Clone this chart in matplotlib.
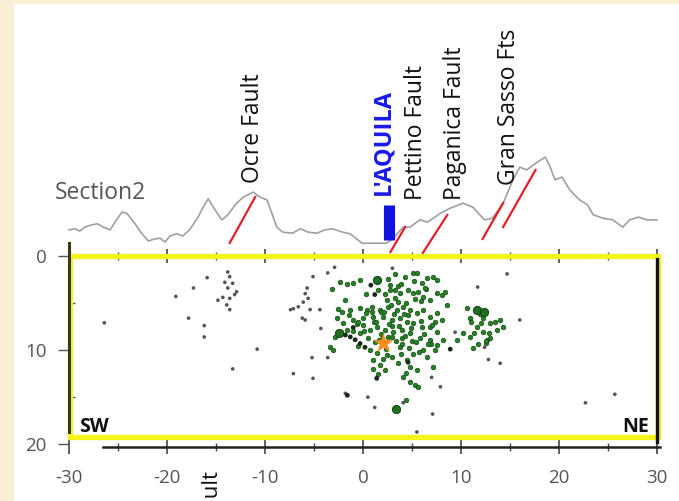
import matplotlib.pyplot as plt
from matplotlib.patches import Rectangle
from matplotlib.ticker import MultipleLocator

plt.rcParams['font.family'] = ['Open Sans', 'DejaVu Sans']
plt.rcParams['axes.unicode_minus'] = False

# topographic profile along the section (km along section, elevation m)
topo_x = [-30.0, -29.4, -28.9, -28.4, -27.7, -27.1, -26.5, -25.8, -25.3, -24.6,
          -24.1, -23.3, -22.6, -21.9, -21.2, -20.7, -20.2, -19.7, -19.0, -18.4,
          -17.7, -16.9, -16.3, -15.8, -15.1, -14.4, -13.8, -12.9, -12.2, -11.2,
          -10.5, -9.8, -9.3, -8.8, -8.2, -7.2, -6.4, -5.6, -4.7, -3.9,
          -3.1, -2.1, -1.3, -0.1, 2.4, 3.1, 4.1, 4.8, 5.8, 6.6,
          7.9, 8.9, 10.2, 11.2, 12.4, 13.2, 14.3, 15.3, 16.0, 16.7,
          17.8, 18.6, 19.1, 19.6, 20.3, 21.1, 22.1, 22.9, 23.5, 24.5,
          25.5, 26.5, 27.2, 28.1, 29.0, 30.0]
topo_z = [770, 790, 750, 820, 860, 880, 820, 770, 910, 1090,
          1070, 890, 710, 570, 610, 620, 550, 660, 700, 660,
          770, 980, 1180, 1330, 1130, 950, 1040, 1250, 1360, 1450,
          1360, 1310, 1070, 820, 730, 710, 790, 730, 710, 770,
          790, 730, 700, 530, 530, 620, 820, 820, 950, 910,
          1070, 1160, 1250, 1180, 950, 980, 1250, 1670, 1900, 1850,
          1990, 2080, 1900, 1670, 1720, 1490, 1310, 1220, 1040, 980,
          950, 820, 950, 1000, 950, 950]

# fault traces drawn on the profile: (x0, z0, x1, z1)
fault_traces = [(-13.6, 534, -11.0, 1362),
                (2.8, 372, 4.3, 822),
                (6.1, 354, 8.6, 1038),
                (12.2, 606, 14.3, 1254),
                (14.3, 822, 17.6, 1848)]
fault_names = ['Ocre Fault', 'Pettino Fault', 'Paganica Fault', 'Gran Sasso Fts']
fault_label_x = [-11.2, 5.4, 9.4, 14.9]
fault_label_z = [1614, 1308, 1308, 1578]

aquila_x = 2.7
aquila_z = (588, 1218)

# background seismicity (km along section, depth km)
gray_x = [-26.4, -19.1, -17.3, -17.8, -15.9, -16.2, -16.2,
          -13.8, -13.6, -14.1, -13.3, -13.8, -12.9, -14.3, -13.6, -13.1, -13.9, -13.6, -14.8,
          -10.8, -13.3, -7.1, -5.1, -5.2, -4.3, -3.6, -5.1, -5.7, -5.9, -5.6,
          -7.4, -7.1, -6.6, -6.1, -5.4, -4.4, -6.2, -5.9, -1.8, -3.6,
          0.5, 1.2, 4.1, 7.1, 5.5, 7.9, 7.0, 9.4, 11.7, 14.7,
          16.0, 12.8, 14.0, 12.4, 22.7, 25.7, -2.9, 3.0]
gray_d = [7.1, 4.3, 3.4, 6.6, 2.3, 7.4, 8.6,
          1.7, 2.2, 2.8, 2.9, 3.4, 3.8, 4.4, 4.5, 4.1, 5.2, 5.7, 4.7,
          9.9, 12.0, 12.5, 13.0, 10.8, 7.7, 1.8, 2.2, 3.4, 4.0, 4.5,
          5.7, 5.6, 5.4, 4.9, 5.7, 5.7, 6.6, 6.8, 14.6, 10.8,
          15.0, 16.1, 15.6, 16.8, 18.7, 13.9, 12.9, 8.1, 3.3, 1.9,
          6.8, 11.0, 11.4, 9.7, 15.6, 14.7, 1.2, 1.3]

# dark events inside the main cluster
dark_x = [8.9, 1.2, 1.4, -1.6, -1.8, -1.3, -0.8, -0.3, 0.2, -2.2, -1.0, 0.8, 4.6]
dark_d = [9.9, 4.1, 13.0, 14.8, 8.4, 8.6, 8.9, 9.3, 9.7, 8.1, 7.6, 3.1, 11.3]

# aftershock sequence
green_x = [-2.3, -1.6, -1.0, -0.3, 2.6, 3.3, 4.3, 5.1, 5.5, 6.5, 7.1, 7.5, 6.0,
           4.6, 5.1, 5.6, 6.1, 6.8, 7.6, 8.1, 8.4, 3.8, 3.3, 2.4, -1.8, -2.1, -1.3,
           -0.3, 0.4, 0.9, 1.7, 2.6, 3.5, 4.1, 4.8, 5.5, 6.1, 6.8, 7.6, 8.1,
           -1.0, 0.0, 1.0, 2.0, 3.0, 3.8, 4.5, 5.1, 6.0, 6.8, 7.6,
           -1.6, -1.0, -0.3, 0.7, 1.4, 2.2, 3.1, 4.0, 4.8, 5.8, 6.8, 7.6,
           -3.4, -3.1, 0.7, 1.4, 1.0, 1.7, 1.5, 2.2, 3.0, 3.8, 4.5, 4.8,
           4.1, 4.8, 5.3, 5.6, 5.5, 6.1, 6.5, 7.1, 7.3, 8.2, 4.4,
           10.6, 10.9, 12.2, 13.0, 13.7, 11.6, 12.2, 10.9, 13.0, 11.7, 11.2,
           10.2, 9.6, 14.0, 14.3, 12.7, 11.9, 12.6,
           -2.0, -1.4, -0.6, 0.3, 1.1, 1.8, 2.9, 3.6, 4.4, 5.3, 4.2, 3.0,
           2.5, 1.9, 3.4, 4.0, 2.3, 1.2, 0.5, -0.5, 5.9, 6.4, 3.6, 2.8,
           -3.2, -2.7, 0.0, 5.0, 5.7, 6.9, 2.0, 1.0, 3.9, 4.7, 7.3, 8.6,
           0.3, 1.5, 2.8, 3.9, 5.2, 6.3, 0.9, 2.1, 3.2, 4.6, 5.9, 7.0,
           -0.5, 1.3, 2.7, 3.7, 4.9, 6.2, 1.8, 3.0, 4.3, 5.4, 0.1, 1.6,
           4.0, 5.1, 6.6, 2.4, 3.6, 4.4, 11.0, 12.0, 12.9, 11.3, 12.5, 13.5,
           -2.6, -2.9, 2.2, 3.3]
green_d = [2.8, 3.0, 2.9, 2.6, 2.4, 1.9, 2.2, 1.8, 1.8, 2.3, 2.2, 2.6, 2.9,
           3.6, 3.9, 3.8, 4.4, 4.7, 3.9, 4.1, 3.8, 3.9, 4.5, 4.7, 4.7, 6.0, 5.7,
           5.5, 5.7, 5.4, 5.7, 5.4, 5.7, 5.4, 5.7, 6.1, 5.7, 6.5, 6.1, 6.8,
           6.8, 6.6, 6.5, 6.5, 6.8, 6.6, 7.0, 7.1, 7.5, 7.5, 8.1,
           7.9, 8.0, 8.2, 7.9, 7.5, 7.9, 8.1, 7.9, 8.2, 8.7, 8.9, 9.5,
           9.7, 10.0, 10.0, 10.3, 11.1, 11.6, 12.5, 12.1, 10.7, 9.7, 11.1, 11.8,
           12.9, 13.4, 13.7, 13.9, 12.1, 10.0, 10.7, 11.8, 10.0, 8.9, 15.3,
           5.5, 6.6, 6.6, 7.1, 7.9, 7.5, 8.1, 8.6, 8.7, 9.3, 9.8,
           8.2, 8.9, 6.8, 7.5, 8.9, 6.2, 9.2,
           7.1, 6.3, 7.2, 6.1, 7.0, 6.0, 5.2, 4.9, 5.0, 4.6, 6.2, 7.4,
           8.6, 8.8, 9.0, 8.7, 9.9, 9.1, 8.7, 9.6, 4.8, 3.5, 3.2, 3.6,
           3.5, 6.6, 7.3, 9.0, 10.2, 9.4, 10.9, 12.0, 10.4, 9.8, 7.0, 5.2,
           4.0, 3.6, 3.1, 3.0, 2.7, 3.4, 6.0, 5.9, 6.2, 6.3, 6.9, 7.3,
           7.0, 7.0, 7.2, 7.4, 7.6, 8.3, 8.3, 8.6, 8.5, 9.1, 8.0, 8.9,
           9.4, 10.4, 9.4, 10.5, 11.4, 12.4, 7.0, 7.1, 8.2, 8.2, 9.0, 7.0,
           5.6, 8.6, 4.0, 3.6]

# larger events
big_x = [1.4, 11.6, 3.4, 12.3, -2.4]
big_d = [2.6, 5.7, 16.3, 6.0, 8.2]

mainshock_x = 2.1
mainshock_d = 9.3

fig = plt.figure(figsize=(6.79, 5.01), dpi=100, facecolor='#faeed5')

# white sheet behind the drawing
bg = fig.add_axes([14 / 679, 0, 1 - 14 / 679, 1 - 4 / 501])
bg.set_facecolor('white')
bg.set_xticks([])
bg.set_yticks([])
for s in bg.spines.values():
    s.set_visible(False)
bg.set_zorder(-1)

# profile panel
ax_top = fig.add_axes([69 / 679, 245 / 501, 588 / 679, 256 / 501])
ax_top.set_xlim(-30, 30)
ax_top.set_ylim(300, 300 + 256 * 18)
ax_top.axis('off')
ax_top.plot(topo_x, topo_z, color='#a0a0a0', lw=1.2, clip_on=False)
for x0, z0, x1, z1 in fault_traces:
    ax_top.plot([x0, x1], [z0, z1], color='#e0202a', lw=1.6, clip_on=False)
ax_top.plot([aquila_x, aquila_x], aquila_z, color='#1010e0', lw=8, solid_capstyle='butt')
for name, lx, lz in zip(fault_names, fault_label_x, fault_label_z):
    ax_top.text(lx, lz, name, rotation=90, ha='center', va='bottom', fontsize=16.5, color='#111111')
ax_top.text(2.1, 1398, "L'AQUILA", rotation=90, ha='center', va='bottom', fontsize=17,
            fontweight='bold', color='#1a1ae6')
ax_top.text(-31.4, 1434, 'Section2', ha='left', va='center', fontsize=16.5, color='#555555',
            clip_on=False)

# seismicity section
ax = fig.add_axes([69 / 679, 54 / 501, 588 / 679, 191 / 501])
ax.set_xlim(-30, 30)
ax.set_ylim(20.3, 0)
ax.patch.set_alpha(0)

ax.scatter(gray_x, gray_d, s=7, color='#555555', edgecolors='none', zorder=3)
ax.scatter(green_x, green_d, s=11, facecolor='#2a7f2a', edgecolors='#0f4f0f', linewidths=0.5, zorder=3)
ax.scatter(dark_x, dark_d, s=12, color='#1a2a1a', edgecolors='none', zorder=3)
ax.scatter(big_x, big_d, s=36, facecolor='#1f6f1f', edgecolors='#0a3a0a', linewidths=0.6, zorder=3)
ax.scatter([mainshock_x], [mainshock_d], s=230, marker='*', color='#ff8a1c', edgecolors='none', zorder=5)

ax.add_patch(Rectangle((-29.85, 0.05), 60.0, 19.2, fill=False, edgecolor='#f4f41c', lw=3.8,
                       clip_on=False, zorder=4))
ax.text(-29.0, 19.25, 'SW', ha='left', va='bottom', fontsize=14, fontweight='bold', color='#111111', zorder=2)
ax.text(29.2, 19.25, 'NE', ha='right', va='bottom', fontsize=14, fontweight='bold', color='#111111', zorder=2)

ax.spines['top'].set_visible(False)
ax.spines['left'].set_color('#3a3a10')
ax.spines['left'].set_linewidth(2.2)
ax.spines['left'].set_bounds(-1.4, 18.7)
ax.spines['left'].set_zorder(6)
ax.spines['right'].set_color('#111111')
ax.spines['right'].set_linewidth(2.4)
ax.spines['right'].set_bounds(0.3, 19.8)
ax.spines['right'].set_zorder(6)
ax.spines['bottom'].set_color('#222222')
ax.spines['bottom'].set_linewidth(1.8)
ax.spines['bottom'].set_bounds(-26.5, 30.3)

ax.xaxis.set_major_locator(MultipleLocator(10))
ax.xaxis.set_minor_locator(MultipleLocator(5))
ax.yaxis.set_major_locator(MultipleLocator(10))
ax.yaxis.set_minor_locator(MultipleLocator(5))
ax.tick_params(axis='x', which='both', direction='inout', top=True, colors='#444444',
               labelsize=13.5, labelcolor='#555555', pad=11)
ax.tick_params(axis='x', which='major', length=10, width=1.2)
ax.tick_params(axis='x', which='minor', length=6, width=1.0)
ax.tick_params(axis='y', which='major', direction='out', length=8, width=1.0, colors='#555555',
               labelsize=13.5, pad=8)
ax.tick_params(axis='y', which='minor', direction='in', length=4, width=1.0, colors='#555555')
ax.set_xticks([-30, -20, -10, 0, 10, 20, 30])
ax.set_xticklabels(['-30', '-20', '-10', '0', '10', '20', '30'])
ax.yaxis.get_major_ticks()[-1].tick1line.set_visible(False)

# partly visible label below the section
fig.text(210 / 679, 1 - 468 / 501, 'Fault', rotation=90, ha='center', va='top',
         fontsize=16, color='#111111')

fig.savefig('out.png', dpi=100, facecolor=fig.get_facecolor())
